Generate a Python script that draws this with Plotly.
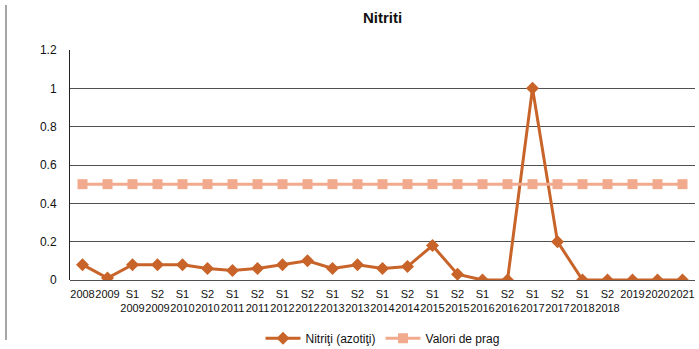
import plotly.graph_objects as go

categories = ["2008", "2009", "S1<br>2009", "S2<br>2009", "S1<br>2010", "S2<br>2010",
              "S1<br>2011", "S2<br>2011", "S1<br>2012", "S2<br>2012", "S1<br>2013", "S2<br>2013",
              "S1<br>2014", "S2<br>2014", "S1<br>2015", "S2<br>2015", "S1<br>2016", "S2<br>2016",
              "S1<br>2017", "S2<br>2017", "S1<br>2018", "S2<br>2018", "2019", "2020", "2021"]
nitriti = [0.08, 0.01, 0.08, 0.08, 0.08, 0.06, 0.05, 0.06, 0.08, 0.10, 0.06, 0.08,
           0.06, 0.07, 0.18, 0.03, 0.0, 0.0, 1.0, 0.2, 0.0, 0.0, 0.0, 0.0, 0.0]
prag = [0.5] * 25
yticks = [0, 0.2, 0.4, 0.6, 0.8, 1, 1.2]
ytick_text = ["0", "0.2", "0.4", "0.6", "0.8", "1", "1.2"]

font_family = "Liberation Sans, Arial, sans-serif"

fig = go.Figure()
fig.add_trace(go.Scatter(
    x=categories, y=nitriti, name="Nitriţi (azotiţi)", mode="lines+markers",
    line=dict(color="#C8642A", width=3),
    marker=dict(symbol="diamond", size=10, color="#C8642A"),
))
fig.add_trace(go.Scatter(
    x=categories, y=prag, name="Valori de prag", mode="lines+markers",
    line=dict(color="#F2AA8E", width=3),
    marker=dict(symbol="square", size=10, color="#F2AA8E"),
))

fig.update_layout(
    width=699, height=349,
    margin=dict(l=70, r=4, t=50, b=69, autoexpand=False),
    paper_bgcolor="white", plot_bgcolor="white",
    font=dict(family=font_family, size=11, color="#111"),
    title=dict(text="<b>Nitriti</b>", x=0.5, xref="paper", xanchor="center",
               y=1 - 18 / 349, yanchor="middle", font=dict(size=15, color="#111")),
    showlegend=True,
    legend=dict(orientation="h", x=0.5, xanchor="center", y=-0.19, yanchor="top",
                font=dict(size=12, color="#111"), itemwidth=35),
    xaxis=dict(type="category", range=[-0.5, 24.5], automargin=False, tickangle=0,
               showgrid=False, showline=False, ticks="", ticklabelstandoff=6,
               tickfont=dict(size=11)),
    yaxis=dict(range=[0, 1.2], tickvals=yticks, ticktext=ytick_text, automargin=False,
               showgrid=True, gridcolor="#505050", gridwidth=1,
               showline=True, linecolor="#222", linewidth=1,
               zeroline=True, zerolinecolor="#505050", zerolinewidth=1,
               ticks="", ticklabelstandoff=10, tickfont=dict(size=12)),
    shapes=[dict(type="line", xref="paper", yref="paper",
                 x0=-64 / 625, x1=-64 / 625, y0=-60 / 230, y1=1 + 45 / 230,
                 line=dict(color="#888", width=1.5))],
)

fig.write_html("out.html", config={"displayModeBar": False},
               post_script="document.body.style.margin='0';document.body.style.overflow='hidden';")
